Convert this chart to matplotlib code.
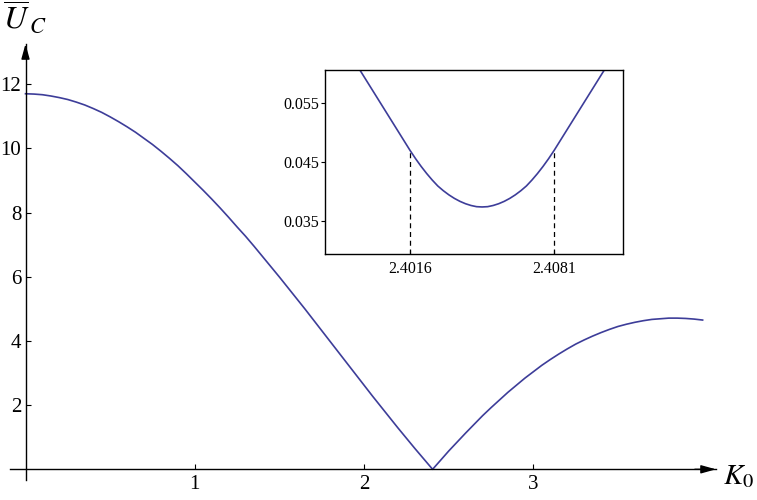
import matplotlib
matplotlib.use("Agg")
import matplotlib.pyplot as plt

plt.rcParams['font.family'] = ['Liberation Serif', 'DejaVu Serif']
plt.rcParams['mathtext.fontset'] = 'stix'

# main curve
k0 = [0.00, 0.05, 0.10, 0.15, 0.20, 0.25, 0.30, 0.35, 0.40, 0.45, 0.50, 0.55,
      0.60, 0.65, 0.70, 0.75, 0.80, 0.85, 0.90, 0.95, 1.00, 1.05, 1.10, 1.15,
      1.20, 1.25, 1.30, 1.35, 1.40, 1.45, 1.50, 1.55, 1.60, 1.65, 1.70, 1.75,
      1.80, 1.85, 1.90, 1.95, 2.00, 2.05, 2.10, 2.15, 2.20, 2.25, 2.30, 2.35,
      2.40, 2.4048, 2.45, 2.50, 2.55, 2.60, 2.65, 2.70, 2.75, 2.80, 2.85, 2.90,
      2.95, 3.00, 3.05, 3.10, 3.15, 3.20, 3.25, 3.30, 3.35, 3.40, 3.45, 3.50,
      3.55, 3.60, 3.65, 3.70, 3.75, 3.80, 3.85, 3.90, 3.95, 4.00]
uc = [11.70, 11.69, 11.67, 11.63, 11.58, 11.52, 11.44, 11.35, 11.24, 11.12,
      10.98, 10.83, 10.67, 10.50, 10.31, 10.12, 9.91, 9.69, 9.46, 9.21, 8.95,
      8.69, 8.42, 8.14, 7.85, 7.55, 7.26, 6.95, 6.63, 6.31, 5.99, 5.66, 5.33,
      5.00, 4.66, 4.32, 3.98, 3.64, 3.30, 2.96, 2.62, 2.28, 1.95, 1.62, 1.29,
      0.97, 0.65, 0.34, 0.03, 0.00, 0.27, 0.57, 0.85, 1.13, 1.40, 1.67, 1.92,
      2.16, 2.40, 2.62, 2.84, 3.04, 3.24, 3.42, 3.59, 3.75, 3.90, 4.03, 4.15,
      4.26, 4.36, 4.45, 4.52, 4.58, 4.63, 4.67, 4.69, 4.71, 4.71, 4.70, 4.68,
      4.65]

# zoomed region near the minimum
k0_zoom = [2.39925, 2.39935, 2.39960, 2.39985, 2.40010, 2.40035, 2.40060,
           2.40085, 2.40110, 2.40135, 2.40160, 2.40185, 2.40210, 2.40235,
           2.40260, 2.40285, 2.40310, 2.40335, 2.40360, 2.40385, 2.40410,
           2.40435, 2.40460, 2.40485, 2.40510, 2.40535, 2.40560, 2.40585,
           2.40610, 2.40635, 2.40660, 2.40685, 2.40710, 2.40735, 2.40760,
           2.40785, 2.40810, 2.40835, 2.40860, 2.40885, 2.40910, 2.40935,
           2.40960, 2.40985, 2.41010, 2.41035, 2.41045]
uc_zoom = [0.0611, 0.0605, 0.0590, 0.0575, 0.0560, 0.0545, 0.0530, 0.0515,
           0.0500, 0.0485, 0.0470, 0.0456, 0.0443, 0.0431, 0.0420, 0.0410,
           0.0402, 0.0395, 0.0389, 0.0384, 0.0380, 0.0377, 0.0375, 0.03745,
           0.0375, 0.0377, 0.0380, 0.0384, 0.0389, 0.0395, 0.0402, 0.0410,
           0.0420, 0.0431, 0.0443, 0.0456, 0.0470, 0.0485, 0.0500, 0.0515,
           0.0530, 0.0545, 0.0560, 0.0575, 0.0590, 0.0605, 0.0611]
marks = [2.4016, 2.4081]
marks_val = [0.0470, 0.0470]

line_col = '#3d3d99'
W, H = 757, 500

fig = plt.figure(figsize=(W / 100, H / 100), dpi=100)
ax = fig.add_axes([10 / W, 20 / H, 706 / W, 436 / H])
ax.plot(k0, uc, color=line_col, lw=1.2, clip_on=False)
ax.set_xlim(-0.0916, 4.079)
ax.set_ylim(-0.333, 13.25)

for s in ['top', 'right']:
    ax.spines[s].set_visible(False)
for s in ['left', 'bottom']:
    ax.spines[s].set_position(('data', 0))
    ax.spines[s].set_linewidth(1.0)

ax.set_xticks([1, 2, 3])
ax.set_yticks([2, 4, 6, 8, 10, 12])
ax.tick_params(axis='both', direction='in', length=3.5, width=0.8, labelsize=15)
ax.tick_params(axis='x', pad=4)
ax.tick_params(axis='y', pad=3)

arrow = dict(arrowstyle='-|>,head_length=0.9,head_width=0.25', color='k',
             lw=1.0, shrinkA=0, shrinkB=0)
ax.annotate('', xy=(1, 0), xycoords=('axes fraction', 'data'),
            xytext=(0.97, 0), textcoords=('axes fraction', 'data'), arrowprops=arrow)
ax.annotate('', xy=(0, 1), xycoords=('data', 'axes fraction'),
            xytext=(0, 0.97), textcoords=('data', 'axes fraction'), arrowprops=arrow)

fig.text(723 / W, 1 - 484 / H, r'$K_0$', fontsize=21, ha='left', va='baseline')
fig.text(3 / W, 1 - 29 / H, r'$\overline{U}_{\,C}$', fontsize=23, ha='left', va='baseline')

# inset
axi = fig.add_axes([325 / W, 1 - 254 / H, 298 / W, 184 / H])
axi.plot(k0_zoom, uc_zoom, color=line_col, lw=1.2)
axi.vlines(marks, 0.0295, marks_val, colors='k', linestyles=(0, (4, 3)), lw=0.9)
axi.set_xlim(2.39776, 2.41121)
axi.set_ylim(0.0295, 0.0606)
axi.set_xticks(marks)
axi.set_xticklabels(['2.4016', '2.4081'])
axi.set_yticks([0.035, 0.045, 0.055])
axi.set_yticklabels(['0.035', '0.045', '0.055'])
axi.tick_params(axis='x', direction='in', length=3, labelsize=11.5, pad=5)
axi.tick_params(axis='y', direction='out', length=3, width=0.8, labelsize=11.5, pad=1.5)
for s in axi.spines.values():
    s.set_linewidth(1.0)

fig.savefig('out.png', dpi=100)
